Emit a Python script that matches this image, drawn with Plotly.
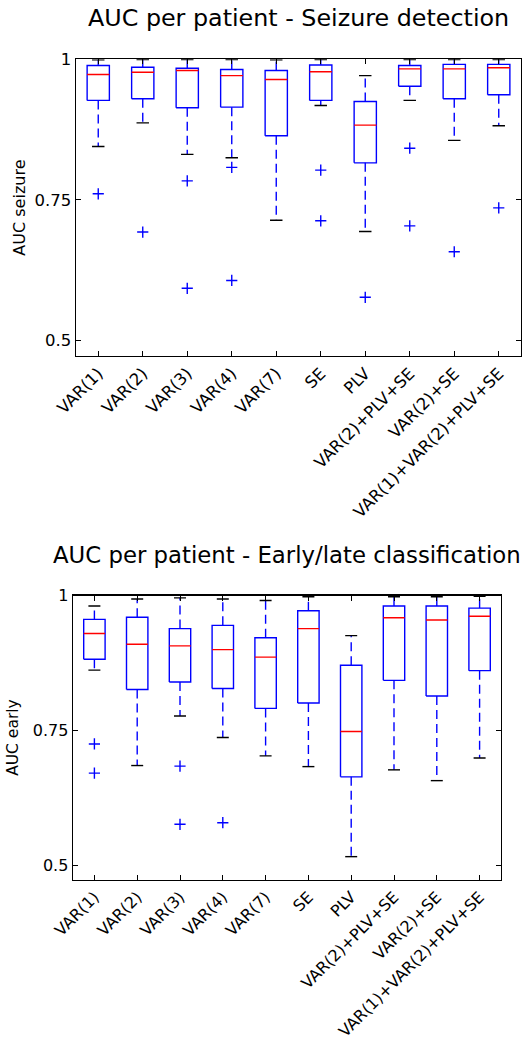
import plotly.graph_objects as go

categories = ["VAR(1)", "VAR(2)", "VAR(3)", "VAR(4)", "VAR(7)", "SE", "PLV",
              "VAR(2)+PLV+SE", "VAR(2)+SE", "VAR(1)+VAR(2)+PLV+SE"]

# Seizure detection AUC box statistics
seizure_whislo = [0.845, 0.887, 0.831, 0.825, 0.714, 0.918, 0.694, 0.927, 0.856, 0.882]
seizure_q1 = [0.927, 0.930, 0.914, 0.915, 0.864, 0.927, 0.816, 0.952, 0.930, 0.937]
seizure_med = [0.973, 0.977, 0.980, 0.971, 0.964, 0.978, 0.883, 0.983, 0.983, 0.985]
seizure_q3 = [0.989, 0.986, 0.984, 0.982, 0.980, 0.990, 0.925, 0.989, 0.991, 0.991]
seizure_whishi = [0.999, 0.9995, 0.9995, 0.9995, 0.999, 0.9995, 0.971, 0.9995, 0.9995, 0.9995]
seizure_outliers = [[0.761], [0.693], [0.784, 0.593], [0.808, 0.607], [],
                    [0.803, 0.713], [0.577], [0.842, 0.704], [0.658], [0.736]]

# Early/late classification AUC box statistics
early_whislo = [0.862, 0.685, 0.777, 0.737, 0.703, 0.683, 0.516, 0.677, 0.657, 0.699]
early_q1 = [0.882, 0.826, 0.840, 0.828, 0.791, 0.801, 0.664, 0.843, 0.814, 0.861]
early_med = [0.930, 0.910, 0.907, 0.900, 0.886, 0.939, 0.748, 0.959, 0.955, 0.962]
early_q3 = [0.956, 0.960, 0.939, 0.945, 0.922, 0.972, 0.871, 0.981, 0.981, 0.977]
early_whishi = [0.981, 0.994, 0.996, 0.994, 0.991, 0.998, 0.926, 0.998, 0.998, 0.999]
early_outliers = [[0.725, 0.671], [], [0.684, 0.576], [0.579], [], [], [], [], [], []]

y_tickvals = [0.5, 0.75, 1.0]
y_ticktext = ["0.5", "0.75", "1"]

BOX_HALF = 0.25
CAP_HALF = 0.14
LW = 1.4
FONT = "DejaVu Sans"

W, H = 525, 1040


def px_x(v):
    return v / W


def px_y(v):
    return 1 - v / H


def add_boxes(fig, xa, ya, whislo, q1, med, q3, whishi, outliers):
    bx, by, mx, my, wx, wy, cx, cy, ox, oy = [], [], [], [], [], [], [], [], [], []
    for i in range(len(categories)):
        p = i + 1
        bx += [p - BOX_HALF, p + BOX_HALF, p + BOX_HALF, p - BOX_HALF, p - BOX_HALF, None]
        by += [q1[i], q1[i], q3[i], q3[i], q1[i], None]
        mx += [p - BOX_HALF, p + BOX_HALF, None]
        my += [med[i], med[i], None]
        wx += [p, p, None, p, p, None]
        wy += [q3[i], whishi[i], None, q1[i], whislo[i], None]
        cx += [p - CAP_HALF, p + CAP_HALF, None, p - CAP_HALF, p + CAP_HALF, None]
        cy += [whishi[i], whishi[i], None, whislo[i], whislo[i], None]
        for v in outliers[i]:
            ox.append(p)
            oy.append(v)
    common = dict(xaxis=xa, yaxis=ya, showlegend=False, hoverinfo="skip")
    fig.add_trace(go.Scatter(x=wx, y=wy, mode="lines",
                             line=dict(color="#0000ff", width=LW, dash="9px,5px"), **common))
    fig.add_trace(go.Scatter(x=cx, y=cy, mode="lines",
                             line=dict(color="black", width=LW), **common))
    fig.add_trace(go.Scatter(x=bx, y=by, mode="lines",
                             line=dict(color="#0000ff", width=LW), **common))
    fig.add_trace(go.Scatter(x=mx, y=my, mode="lines",
                             line=dict(color="#ff0000", width=LW), **common))
    fig.add_trace(go.Scatter(x=ox, y=oy, mode="markers",
                             marker=dict(symbol="cross-thin", size=8,
                                         line=dict(color="#0000ff", width=LW)),
                             **common))


fig = go.Figure()
add_boxes(fig, "x", "y", seizure_whislo, seizure_q1, seizure_med, seizure_q3,
          seizure_whishi, seizure_outliers)
add_boxes(fig, "x2", "y2", early_whislo, early_q1, early_med, early_q3,
          early_whishi, early_outliers)


def xaxis_style(fs):
    return dict(
        range=[0.5, len(categories) + 0.5],
        tickmode="array",
        tickvals=list(range(1, len(categories) + 1)),
        ticktext=categories,
        tickangle=-45,
        ticks="inside", ticklen=5, tickwidth=1, tickcolor="black",
        showline=True, linecolor="black", linewidth=LW, mirror="ticks",
        showgrid=False, zeroline=False, automargin=False,
        tickfont=dict(family=FONT, size=fs, color="black"),
        fixedrange=True,
    )


def yaxis_style(fs):
    return dict(
        range=[0.4727, 1.0],
        tickmode="array", tickvals=y_tickvals, ticktext=y_ticktext,
        ticks="inside", ticklen=5, tickwidth=1, tickcolor="black",
        showline=True, linecolor="black", linewidth=LW, mirror="ticks",
        showgrid=False, zeroline=False, automargin=False,
        tickfont=dict(family=FONT, size=fs, color="black"),
        fixedrange=True,
    )


top_x = [px_x(76), px_x(521)]
top_y = [px_y(356), px_y(59.3)]
bot_x = [px_x(73), px_x(501)]
bot_y = [px_y(880), px_y(595.7)]

fig.update_layout(
    template="none",
    width=W, height=H,
    margin=dict(l=0, r=0, t=0, b=0, pad=0),
    paper_bgcolor="white", plot_bgcolor="white",
    font=dict(family=FONT, color="black"),
    xaxis=dict(domain=top_x, anchor="y", **xaxis_style(16.5)),
    yaxis=dict(domain=top_y, anchor="x", **yaxis_style(16.5)),
    xaxis2=dict(domain=bot_x, anchor="y2", **xaxis_style(16)),
    yaxis2=dict(domain=bot_y, anchor="x2", **yaxis_style(16)),
    annotations=[
        dict(text="AUC per patient - Seizure detection", xref="paper", yref="paper",
             x=sum(top_x) / 2, y=px_y(18), xanchor="center", yanchor="middle",
             showarrow=False, font=dict(family=FONT, size=23.8, color="black")),
        dict(text="AUC per patient - Early/late classification", xref="paper", yref="paper",
             x=sum(bot_x) / 2, y=px_y(555), xanchor="center", yanchor="middle",
             showarrow=False, font=dict(family=FONT, size=22.8, color="black")),
        dict(text="AUC seizure", xref="paper", yref="paper",
             x=px_x(20), y=sum(top_y) / 2, xanchor="center", yanchor="middle",
             textangle=-90, showarrow=False, font=dict(family=FONT, size=16, color="black")),
        dict(text="AUC early", xref="paper", yref="paper",
             x=px_x(13), y=sum(bot_y) / 2, xanchor="center", yanchor="middle",
             textangle=-90, showarrow=False, font=dict(family=FONT, size=15.5, color="black")),
    ],
)

fig.write_html(
    "out.html",
    config={"displayModeBar": False, "staticPlot": True},
    post_script="document.body.style.margin='0';document.body.style.overflow='hidden';",
)
